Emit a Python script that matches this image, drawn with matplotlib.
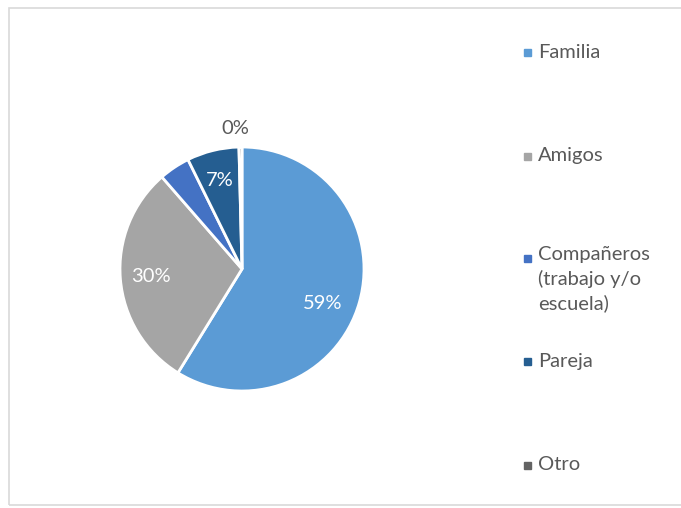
"""Pie chart: con quién se relaciona (Familia, Amigos, ...)"""
import numpy as np
from matplotlib import pyplot as plt
from matplotlib.patches import Rectangle

categories = ["Familia", "Amigos", "Compañeros\n(trabajo y/o\nescuela)", "Pareja", "Otro"]
values = [58.8, 29.8, 4.1, 6.9, 0.4]
colors = ["#5B9BD5", "#A5A5A5", "#4472C4", "#255E91", "#636363"]
show_label = [True, True, False, True, True]

plt.rcParams['font.family'] = ['Lato', 'DejaVu Sans']

W, H = 681, 508
fig = plt.figure(figsize=(W / 100, H / 100), dpi=100)

# outer chart border
fig.patches.append(Rectangle((9 / W, 3 / H), 1.0, (H - 11) / H, transform=fig.transFigure,
                             fill=False, edgecolor="#D9D9D9", linewidth=1.2))

# pie axes: centre (242, 269) px, radius 122 px
cx, cy, r = 242, 269, 122 * 1.02
ax = fig.add_axes([(cx - r) / W, (H - cy - r) / H, 2 * r / W, 2 * r / H])
ax.set_aspect("equal")

wedges, texts, autotexts = ax.pie(
    values, colors=colors, startangle=90, counterclock=False,
    autopct="%.0f%%", pctdistance=0.75,
    wedgeprops=dict(edgecolor="white", linewidth=2),
    textprops=dict(fontsize=14.5, color="white"),
)

for t, show in zip(autotexts, show_label):
    if not show:
        t.set_text("")

# Familia label sits a little lower in the original
x0, y0 = autotexts[0].get_position()
autotexts[0].set_position((x0 - 0.06, y0 - 0.08))

# "Otro" label sits outside the pie
w = wedges[-1]
ang = np.deg2rad((w.theta1 + w.theta2) / 2)
autotexts[-1].set_position((1.15 * np.cos(ang) - 0.04, 1.15 * np.sin(ang)))
autotexts[-1].set_color("#595959")

ax.set_xlim(-1.02, 1.02)
ax.set_ylim(-1.02, 1.02)

# legend drawn by hand to keep Excel-like spacing
legend_y = [52, 156, 258, 361, 465]
for lab, col, y in zip(categories, colors, legend_y):
    fig.patches.append(Rectangle((524 / W, (H - y - 3.5) / H), 7 / W, 7 / H,
                                 transform=fig.transFigure, color=col))
    if "\n" in lab:
        fig.text(538 / W, (H - y + 12) / H, lab, fontsize=14.5, color="#595959",
                 ha="left", va="top", linespacing=1.45)
    else:
        fig.text(538 / W, (H - y) / H, lab, fontsize=14.5, color="#595959",
                 ha="left", va="center")

fig.savefig("out.png", dpi=100)
